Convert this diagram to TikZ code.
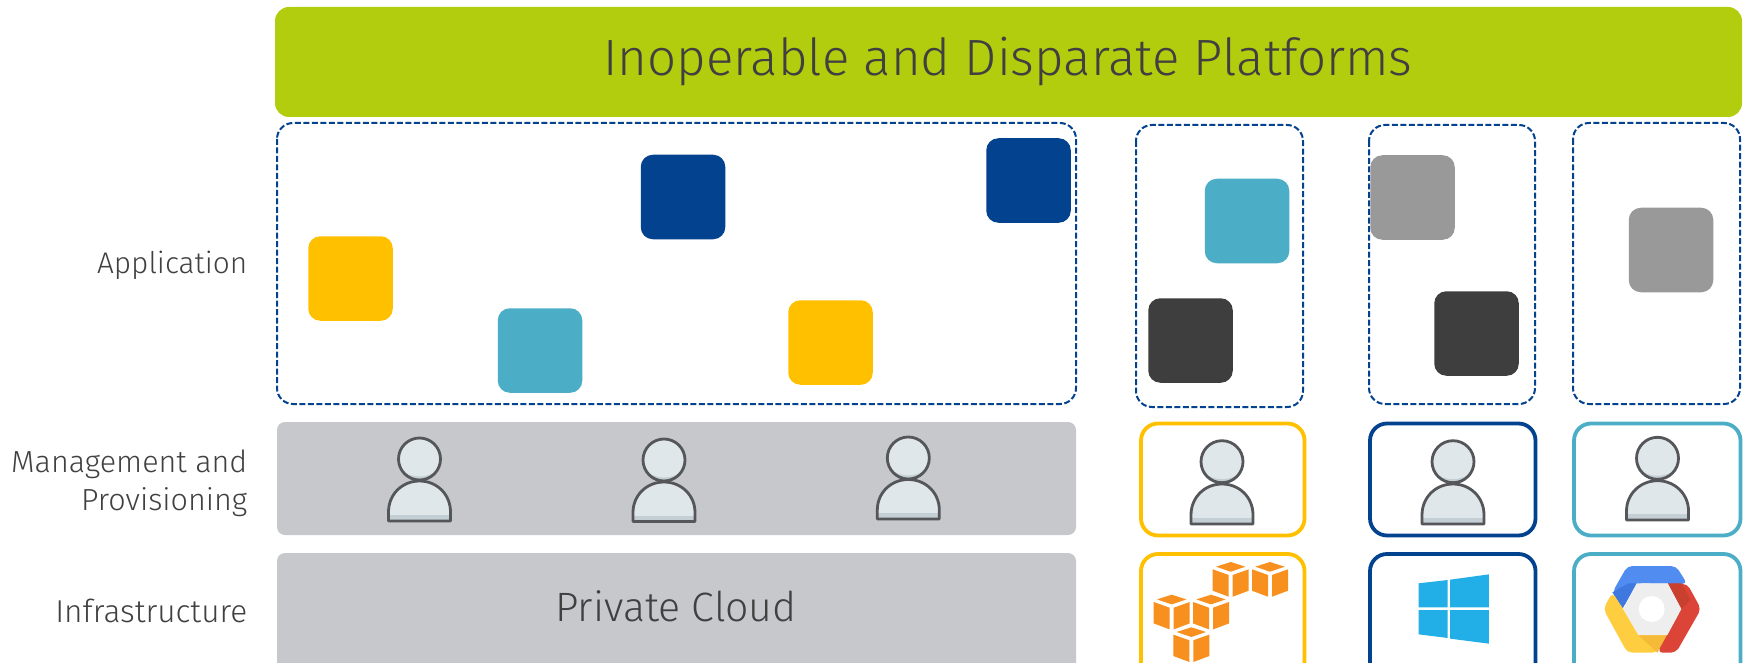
\documentclass[tikz,border=0pt]{standalone}
\usepackage{fontspec}
\setmainfont{Fira Sans Light}
\definecolor{lime}{HTML}{B2CD0E}
\definecolor{navy}{HTML}{03428F}
\definecolor{teal1}{HTML}{4BADC6}
\definecolor{amber}{HTML}{FFC000}
\definecolor{dark}{HTML}{3E3E3E}
\definecolor{midgray}{HTML}{999999}
\definecolor{band}{HTML}{C7C8CC}
\definecolor{ink}{HTML}{404040}
\definecolor{skin}{HTML}{E0E7EA}
\definecolor{skinshade}{HTML}{C3CFD4}
\definecolor{personline}{HTML}{55565A}
\definecolor{awsorange}{HTML}{F7901E}
\definecolor{winblue}{HTML}{22AEE6}
\definecolor{gblue}{HTML}{518CF0}
\definecolor{gblued}{HTML}{3F78DE}
\definecolor{gred}{HTML}{DB4437}
\definecolor{gredd}{HTML}{C9402F}
\definecolor{gyellow}{HTML}{FFCD40}
\definecolor{gyellowd}{HTML}{F5BB38}
\definecolor{ggray}{HTML}{EEEEEE}
\tikzset{
  x=1pt,y=-1pt,
  appbox/.style={rectangle,rounded corners=12pt,minimum width=84.5pt,minimum height=84.5pt,inner sep=0pt},
  zone/.style={draw=navy,line width=2pt,dash pattern=on 6pt off 2.5pt,rounded corners=16pt,fill=none},
  bandbox/.style={fill=band,rounded corners=8pt},
  frame/.style={draw=#1,line width=3.8pt,rounded corners=17pt,fill=white},
  lbl/.style={text=ink,font=\fontsize{30.5}{36}\selectfont,inner sep=0pt},
}
\newcommand{\person}[6]{% cx, head cy, head rx, head ry, body top, body bottom
  \begin{scope}
    \fill[skin] (#1,#2) ellipse [x radius=#3,y radius=#4];
    \begin{scope}
      \clip (#1,#2) ellipse [x radius=#3,y radius=#4];
      \fill[skinshade,even odd rule] (#1-#3-2,#2-#4-2) rectangle (#1+#3+2,#2+#4+2) (#1,#2-3.5) ellipse [x radius=#3+4,y radius=#4];
    \end{scope}
    \draw[personline,line width=2.8pt] (#1,#2) ellipse [x radius=#3,y radius=#4];
    \path[fill=skin] (#1-31,#6) -- (#1-31,#6-9) .. controls (#1-31,#5+13) and (#1-17,#5) .. (#1,#5) .. controls (#1+17,#5) and (#1+31,#5+13) .. (#1+31,#6-9) -- (#1+31,#6) -- cycle;
    \fill[skinshade] (#1-31,#6-6) rectangle (#1+31,#6);
    \draw[personline,line width=2.8pt,line join=round] (#1-31,#6) -- (#1-31,#6-9) .. controls (#1-31,#5+13) and (#1-17,#5) .. (#1,#5) .. controls (#1+17,#5) and (#1+31,#5+13) .. (#1+31,#6-9) -- (#1+31,#6) -- cycle;
  \end{scope}
}
\newcommand{\cube}[2]{%
  \begin{scope}[shift={(#1,#2)}]
    \fill[awsorange] (0,0) -- (14.7,4.7) -- (0,9.7) -- (-14.7,4.7) -- cycle;
    \fill[awsorange] (-18,7.3) -- (-2,13) -- (-2,34.7) -- (-18,28.7) -- cycle;
    \fill[awsorange] (18,7.3) -- (2,13) -- (2,34.7) -- (18,28.7) -- cycle;
  \end{scope}
}
\begin{document}
\begin{tikzpicture}
\useasboundingbox (0,0) rectangle (1750,663);
\clip (0,0) rectangle (1750,663);
% header
\fill[lime,rounded corners=14pt] (275,7) rectangle (1742,117);
\node[text=ink,font=\fontsize{51}{60}\selectfont,inner sep=0pt] (title) at (1008,62) {Inoperable and Disparate Platforms};
% zones
\draw[zone] (277,123) rectangle (1076,404);
\draw[zone] (1136,125) rectangle (1303,407);
\draw[zone] (1369,125) rectangle (1535,404);
\draw[zone] (1573,123) rectangle (1740,404);
% apps
\node[appbox,fill=amber] (a1) at (350.5,278.5) {};
\node[appbox,fill=navy] (a2) at (683,197) {};
\node[appbox,fill=navy] (a3) at (1028.5,180.5) {};
\node[appbox,fill=teal1] (a4) at (540,350.5) {};
\node[appbox,fill=amber] (a5) at (830.5,342.5) {};
\node[appbox,fill=teal1] (a6) at (1247,221) {};
\node[appbox,fill=dark] (a7) at (1190.5,340.5) {};
\node[appbox,fill=midgray] (a8) at (1412.5,197.5) {};
\node[appbox,fill=dark] (a9) at (1476.5,333.5) {};
\node[appbox,fill=midgray] (a10) at (1671,250) {};
% bands
\fill[bandbox] (277,422) rectangle (1076,535);
\fill[bandbox] (277,553) rectangle (1076,680);
\node[lbl,font=\fontsize{41}{48}\selectfont] (pc) at (676,606) {Private Cloud};
% frames
\draw[frame=amber] (1141,423.5) rectangle (1304.5,535.5);
\draw[frame=navy] (1370,423.5) rectangle (1535.5,535.5);
\draw[frame=teal1] (1574,423.5) rectangle (1740.5,535.5);
\draw[frame=amber] (1141,554) rectangle (1304.5,690);
\draw[frame=navy] (1370,554) rectangle (1535.5,690);
\draw[frame=teal1] (1574,554) rectangle (1740.5,690);
% persons
\person{419.5}{459}{21}{21}{481}{521}
\person{664}{460}{21}{21}{482}{521.5}
\person{908.3}{458}{21}{21}{479.5}{519}
\person{1222}{461.7}{21}{21}{484}{524}
\person{1453}{461.7}{21}{21}{484}{524}
\person{1657.5}{458.3}{21}{21}{480.7}{520}
% labels
\node[lbl,anchor=east,font=\fontsize{29.8}{36}\selectfont] (l1) at (247.5,265) {Application};
\node[lbl,anchor=east] (l2) at (247.5,464) {Management and};
\node[lbl,anchor=east] (l3) at (247.5,502) {Provisioning};
\node[lbl,anchor=east,font=\fontsize{31.6}{36}\selectfont] (l4) at (247.5,611) {Infrastructure};
% AWS
\cube{1230.7}{562}\cube{1270}{562}\cube{1171.7}{594.7}\cube{1211}{594.7}\cube{1191.3}{627.3}
% Windows
\begin{scope}[shift={(1099,410)},xscale=1/2.4,yscale=1/3]
  \fill[winblue] (767,520) -- (837,510) -- (837,592) -- (767,592) -- cycle;
  \fill[winblue] (843,509) -- (936,493) -- (936,592) -- (843,592) -- cycle;
  \fill[winblue] (767,600) -- (837,600) -- (837,684) -- (767,673) -- cycle;
  \fill[winblue] (843,600) -- (936,600) -- (936,701) -- (843,686) -- cycle;
\end{scope}
% Google Cloud
\begin{scope}[shift={(1570,540)},scale=1/3]
  \fill[gblue,rounded corners=5pt] (127,157) -- (172,78) -- (318,78) -- (352,132) -- (200,130) -- (158,205) -- cycle;
  \fill[gblued] (127,157) -- (158,205) -- (200,130) -- (175,130) -- cycle;
  \fill[gyellow,rounded corners=5pt] (127,157) -- (100,207) -- (172,338) -- (262,338) -- (292,285) -- (205,285) -- (158,205) -- cycle;
  \fill[gyellowd] (205,285) -- (292,285) -- (262,338) -- cycle;
  \fill[gred,rounded corners=5pt] (293,130) -- (352,132) -- (393,207) -- (318,338) -- (262,338) -- (334,207) -- cycle;
  \fill[gredd] (293,130) -- (334,130) -- (362,180) -- (334,207) -- cycle;
  \fill[ggray] (200,130) -- (293,130) -- (334,207) -- (292,285) -- (205,285) -- (160,207) -- cycle;
  \fill[white] (245,207) circle [radius=39];
\end{scope}
\end{tikzpicture}
\end{document}
